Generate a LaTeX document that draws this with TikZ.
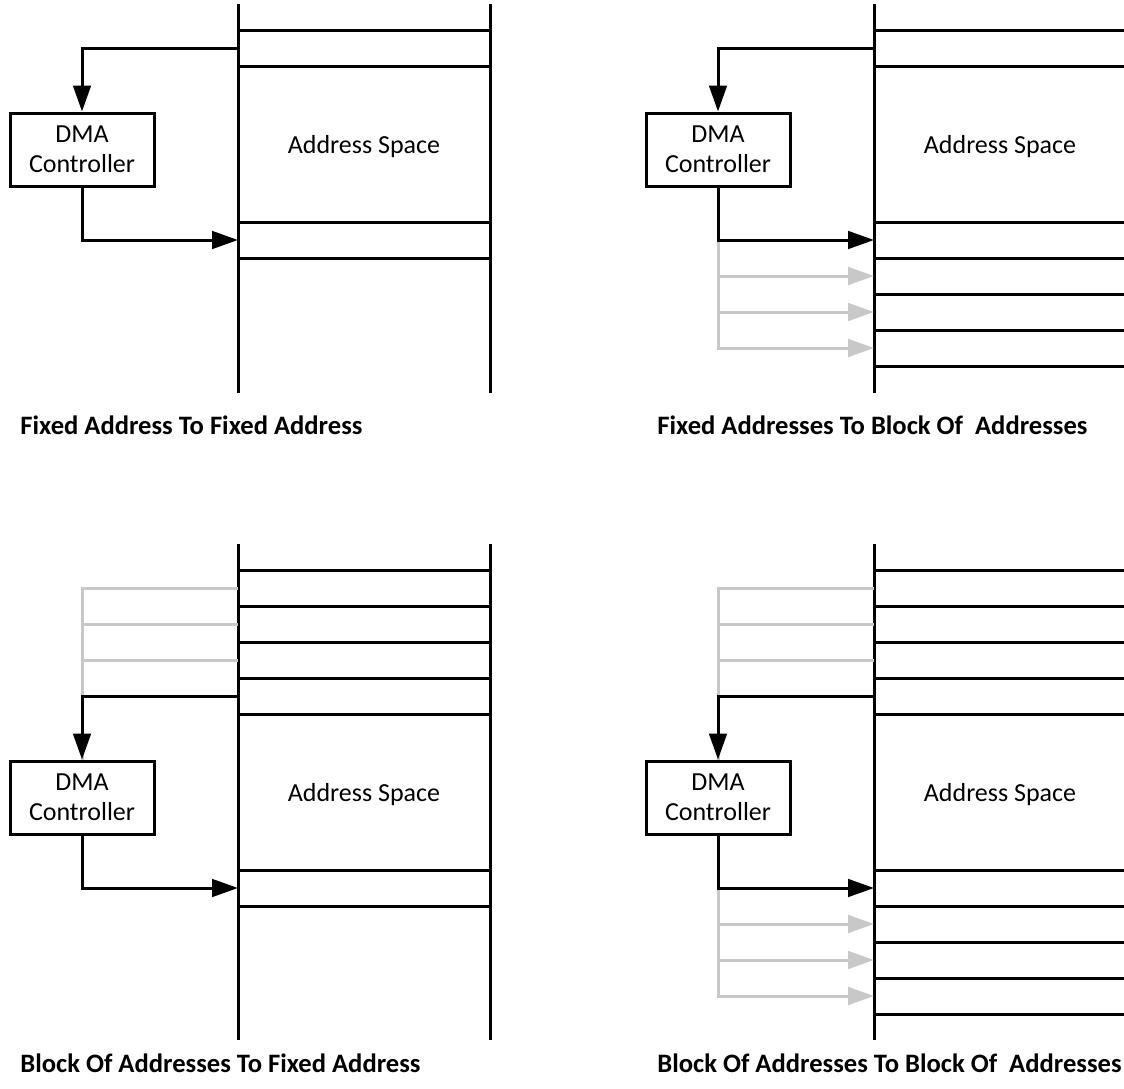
\documentclass[tikz,border=0pt]{standalone}
\usepackage{fontspec}
\setmainfont{Carlito}
\usetikzlibrary{arrows.meta}
\definecolor{memline}{RGB}{0,0,0}
\definecolor{ghostgray}{RGB}{200,200,200}
\tikzset{
  wall/.style={line width=1.5pt, draw=memline, line cap=rect},
  cellsep/.style={line width=1.5pt, draw=memline},
  dmabox/.style={draw, line width=1.5pt, minimum width=72pt, minimum height=36.5pt,
    inner sep=0pt, align=center, font=\fontsize{13}{15}\selectfont},
  spacelabel/.style={font=\fontsize{13}{15}\selectfont, inner sep=0pt},
  caption/.style={font=\fontsize{13.3}{15}\selectfont\bfseries, anchor=west, inner sep=0pt},
  flow/.style={line width=1.5pt, -{Triangle[length=13pt,width=8.8pt]}},
  flowline/.style={line width=1.5pt},
  ghost/.style={line width=1.5pt, draw=ghostgray, -{Triangle[length=13pt,width=8.8pt,fill=ghostgray]}},
  ghostline/.style={line width=1.5pt, draw=ghostgray},
}
\begin{document}
\begin{tikzpicture}[x=0.5pt, y=-0.5pt]
\useasboundingbox (0,0) rectangle (1124,1088);

% ---------- Fixed address to fixed address ----------
\draw[wall] (238,5) -- (238,391);
\draw[wall] (490,5) -- (490,391);
\foreach \y in {30,66,222,258} \draw[cellsep] (238,\y) -- (490,\y);
\node[dmabox] (dma1) at (82,149.5) {DMA\\Controller};
\node[spacelabel] (as1) at (364,147) {Address Space};
\coordinate (src1) at (238,48);
\coordinate (dst1) at (238,240);
\draw[flow] (src1) -| (dma1.north);
\draw[flow] (dma1.south) |- (dst1);
\node[caption] (cap1) at (20,425) {Fixed Address To Fixed Address};

% ---------- Fixed addresses to block of addresses ----------
\draw[wall] (874,5) -- (874,391);
\foreach \y in {30,66,222,258,294,330,366} \draw[cellsep] (874,\y) -- (1124,\y);
\node[dmabox] (dma2) at (718,149.5) {DMA\\Controller};
\node[spacelabel] (as2) at (1000,147) {Address Space};
\coordinate (src2) at (874,48);
\coordinate (dst2) at (874,240);
\coordinate (dst2b) at (874,276);
\coordinate (dst2c) at (874,312);
\coordinate (dst2d) at (874,348);
\foreach \d in {dst2b,dst2c,dst2d} \draw[ghost] (dma2.south) |- (\d);
\draw[flow] (src2) -| (dma2.north);
\draw[flow] (dma2.south) |- (dst2);
\node[caption] (cap2) at (657,425) {Fixed Addresses To Block Of\ \ Addresses};

% ---------- Block of addresses to fixed address ----------
\draw[wall] (238,545) -- (238,1038);
\draw[wall] (490,545) -- (490,1038);
\foreach \y in {570,606,642,678,714,870,906} \draw[cellsep] (238,\y) -- (490,\y);
\node[dmabox] (dma3) at (82,797.5) {DMA\\Controller};
\node[spacelabel] (as3) at (364,795) {Address Space};
\coordinate (src3) at (238,696);
\coordinate (src3b) at (238,588);
\coordinate (src3c) at (238,624);
\coordinate (src3d) at (238,660);
\coordinate (dst3) at (238,888);
\foreach \s in {src3b,src3c,src3d} \draw[ghostline] (\s) -| (dma3.north);
\draw[flow] (src3) -| (dma3.north);
\draw[flow] (dma3.south) |- (dst3);
\node[caption] (cap3) at (20,1063) {Block Of Addresses To Fixed Address};

% ---------- Block of addresses to block of addresses ----------
\draw[wall] (874,545) -- (874,1038);
\foreach \y in {570,606,642,678,714,870,906,942,978,1014} \draw[cellsep] (874,\y) -- (1124,\y);
\node[dmabox] (dma4) at (718,797.5) {DMA\\Controller};
\node[spacelabel] (as4) at (1000,795) {Address Space};
\coordinate (src4) at (874,696);
\coordinate (src4b) at (874,588);
\coordinate (src4c) at (874,624);
\coordinate (src4d) at (874,660);
\coordinate (dst4) at (874,888);
\coordinate (dst4b) at (874,924);
\coordinate (dst4c) at (874,960);
\coordinate (dst4d) at (874,996);
\foreach \s in {src4b,src4c,src4d} \draw[ghostline] (\s) -| (dma4.north);
\foreach \d in {dst4b,dst4c,dst4d} \draw[ghost] (dma4.south) |- (\d);
\draw[flow] (src4) -| (dma4.north);
\draw[flow] (dma4.south) |- (dst4);
\node[caption] (cap4) at (657,1063) {Block Of Addresses To Block Of\ \ Addresses};
\end{tikzpicture}
\end{document}
